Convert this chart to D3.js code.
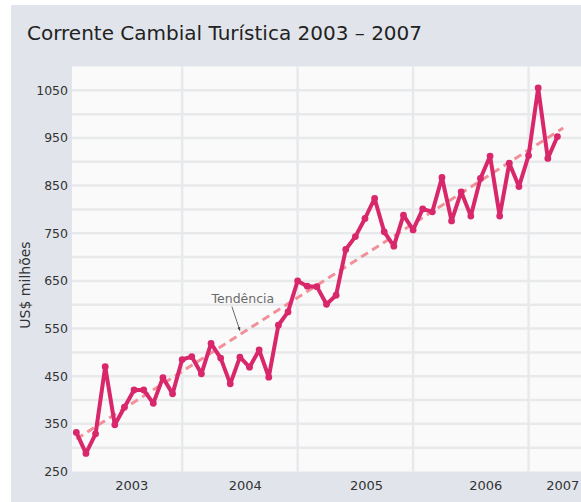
<!DOCTYPE html>
<html>
<head>
<meta charset="utf-8">
<script src="https://cdn.jsdelivr.net/npm/d3@7"></script>
<style>
  html, body { margin: 0; padding: 0; background: #ffffff; }
  svg { display: block; }
</style>
</head>
<body>
<div id="viz"></div>
<script>
//Datos: corrente cambial turística mensal (US$ milhões), jan/2003 - mar/2007
const valores = [332, 288, 329, 470, 348, 385, 421, 421, 393, 447, 413, 485,
                 491, 455, 519, 488, 434, 490, 469, 505, 448, 557, 585, 650,
                 639, 638, 601, 620, 716, 743, 781, 823, 753, 723, 788, 757,
                 801, 795, 867, 776, 837, 786, 865, 912, 786, 897, 848, 913,
                 1055, 907, 953];
//Tendência (mês inicial / final e valores)
const tendenciaMes = [0, 50.6];
const tendenciaValor = [318, 971];
//Eixos
const anos = ['2003', '2004', '2005', '2006', '2007'];
const anosMes = [5.7, 17.5, 30.1, 42.5, 50.5];
const quebrasAno = [11, 23, 35, 47];
const yTicks = [250, 350, 450, 550, 650, 750, 850, 950, 1050];
const yGrade = [300, 350, 400, 450, 500, 550, 600, 650, 700, 750, 800, 850, 900, 950, 1000, 1050];

//Cores
const COLOR_BG = '#e1e5eb',
COLOR_PLOT = '#fafafa',
COLOR_GRID = '#e8e9eb',
COLOR_LINE = '#d8276b',
COLOR_TREND = '#f2909a',
COLOR_TEXT = '#333333';

const W = 581, H = 502;

let svg = d3.select('#viz')
    .append('svg')
    .attr('width', W)
    .attr('height', H);

svg.append('rect')
    .attr('x', 11).attr('y', 5)
    .attr('width', W - 11).attr('height', H - 5)
    .attr('fill', COLOR_BG);

let plot = {left: 72, top: 66.5, right: 581, bottom: 471.5};

let x = d3.scaleLinear()
    .domain([-0.45, 52.45])
    .range([plot.left, plot.right]);

let y = d3.scaleLinear()
    .domain([250, 1100])
    .range([plot.bottom, plot.top]);

svg.append('rect')
    .attr('x', plot.left).attr('y', plot.top)
    .attr('width', plot.right - plot.left).attr('height', plot.bottom - plot.top)
    .attr('fill', COLOR_PLOT);

//Grade
svg.append('g')
    .selectAll('line')
    .data(yGrade)
    .enter()
    .append('line')
    .attr('x1', plot.left).attr('x2', plot.right)
    .attr('y1', d => y(d)).attr('y2', d => y(d))
    .attr('stroke', COLOR_GRID)
    .attr('stroke-width', 2.5);

svg.append('g')
    .selectAll('line')
    .data(quebrasAno)
    .enter()
    .append('line')
    .attr('x1', d => x(d)).attr('x2', d => x(d))
    .attr('y1', plot.top).attr('y2', plot.bottom)
    .attr('stroke', COLOR_GRID)
    .attr('stroke-width', 2.5);

//Eixo Y
let yAxis = svg.append('g')
    .attr('transform', 'translate(' + (plot.left - 4) + ',0)')
    .call(d3.axisLeft(y).tickValues(yTicks).tickFormat(d3.format('d')).tickSize(0).tickPadding(0));
yAxis.select('.domain').remove();
yAxis.selectAll('text')
    .attr('font-family', 'DejaVu Sans, sans-serif')
    .attr('font-size', 12.5)
    .attr('fill', COLOR_TEXT);

//Eixo X
let xAxis = svg.append('g')
    .attr('transform', 'translate(0,' + plot.bottom + ')')
    .call(d3.axisBottom(x).tickValues(anosMes).tickFormat((d, i) => anos[i]).tickSize(0).tickPadding(9));
xAxis.select('.domain').remove();
xAxis.selectAll('text')
    .attr('font-family', 'DejaVu Sans, sans-serif')
    .attr('font-size', 13)
    .attr('fill', COLOR_TEXT);

//Título
svg.append('text')
    .attr('x', 27).attr('y', 40)
    .attr('font-family', 'DejaVu Sans, sans-serif')
    .attr('font-size', 20)
    .attr('fill', '#222222')
    .text('Corrente Cambial Turística 2003 – 2007');

svg.append('text')
    .attr('transform', 'translate(30,' + 285 + ') rotate(-90)')
    .attr('text-anchor', 'middle')
    .attr('font-family', 'DejaVu Sans, sans-serif')
    .attr('font-size', 14)
    .attr('fill', COLOR_TEXT)
    .text('US$ milhões');

//Tendência
let tendencia = tendenciaMes.map((m, i) => ({m: m, v: tendenciaValor[i]}));
svg.append('path')
    .datum(tendencia)
    .attr('fill', 'none')
    .attr('stroke', COLOR_TREND)
    .attr('stroke-width', 3)
    .attr('stroke-dasharray', '8,5')
    .attr('d', d3.line().x(d => x(d.m)).y(d => y(d.v)));

//Linha principal
let dados = valores.map((v, i) => ({m: i, v: v}));
svg.append('path')
    .datum(dados)
    .attr('fill', 'none')
    .attr('stroke', COLOR_LINE)
    .attr('stroke-width', 4)
    .attr('stroke-linejoin', 'round')
    .attr('d', d3.line().x(d => x(d.m)).y(d => y(d.v)));

svg.append('g')
    .selectAll('circle')
    .data(dados)
    .enter()
    .append('circle')
    .attr('cx', d => x(d.m))
    .attr('cy', d => y(d.v))
    .attr('r', 3.4)
    .attr('fill', COLOR_LINE);

//Anotação
let mAnot = 17;
let vAnot = tendenciaValor[0] + (tendenciaValor[1] - tendenciaValor[0]) * (mAnot - tendenciaMes[0]) / (tendenciaMes[1] - tendenciaMes[0]);
let ax = x(mAnot), ay = y(vAnot) - 4;

svg.append('defs').append('marker')
    .attr('id', 'seta')
    .attr('viewBox', '0 0 10 10')
    .attr('refX', 9).attr('refY', 5)
    .attr('markerWidth', 5).attr('markerHeight', 5)
    .attr('orient', 'auto')
    .append('path')
    .attr('d', 'M0,1 L10,5 L0,9 Z')
    .attr('fill', '#444');

svg.append('line')
    .attr('x1', ax - 8).attr('y1', ay - 24)
    .attr('x2', ax).attr('y2', ay)
    .attr('stroke', '#444')
    .attr('stroke-width', 0.8)
    .attr('marker-end', 'url(#seta)');

svg.append('text')
    .attr('x', ax + 3).attr('y', ay - 28)
    .attr('text-anchor', 'middle')
    .attr('font-family', 'DejaVu Sans, sans-serif')
    .attr('font-size', 12.5)
    .attr('fill', '#6a6a6a')
    .text('Tendência');
</script>
</body>
</html>
